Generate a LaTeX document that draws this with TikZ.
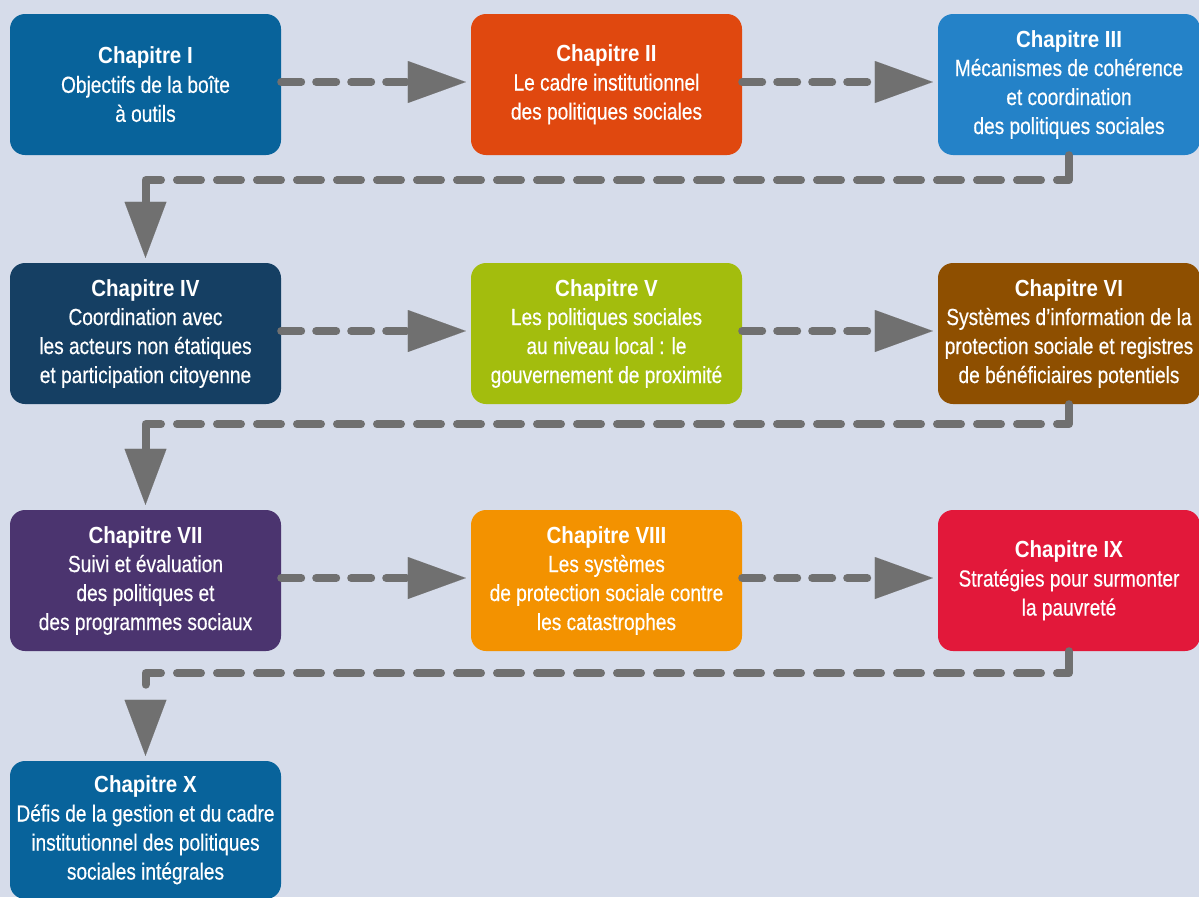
\documentclass[tikz,border=0pt]{standalone}
\usepackage{fontspec}
\setmainfont{Liberation Sans}[FakeStretch=0.82, UprightFeatures={FakeBold=0.4}, BoldFeatures={FakeStretch=0.88}]
\usetikzlibrary{arrows.meta}

\definecolor{bgcol}{HTML}{D6DCEA}
\definecolor{linkgray}{HTML}{707070}
\definecolor{cI}{HTML}{08639B}
\definecolor{cII}{HTML}{E0480F}
\definecolor{cIII}{HTML}{2482C8}
\definecolor{cIV}{HTML}{153F63}
\definecolor{cV}{HTML}{A3BD0D}
\definecolor{cVI}{HTML}{8E4F00}
\definecolor{cVII}{HTML}{4B346F}
\definecolor{cVIII}{HTML}{F39200}
\definecolor{cIX}{HTML}{E2183A}

\tikzset{
  chapbox/.style={rounded corners=15pt, inner sep=0pt, text=white, align=center,
    minimum width=271pt, minimum height=141pt,
    font=\fontsize{23.3}{29}\selectfont},
  widebox/.style={chapbox, minimum width=262pt},
  nextlink/.style={draw=linkgray, line width=8pt, line cap=round,
    dash pattern=on 20pt off 15pt, shorten >=5pt,
    -{Triangle[length=58pt,width=42pt,line width=0.01pt,fill=linkgray]}},
  % #1: first dash (round the upper corner), #2: last dash (round the lower corner)
  backlink/.style 2 args={draw=linkgray, line width=8pt, line cap=round, line join=round,
    dash pattern=on #1 off 16pt
      on 24pt off 16pt on 24pt off 16pt on 24pt off 16pt on 24pt off 16pt
      on 24pt off 16pt on 24pt off 16pt on 24pt off 16pt on 24pt off 16pt
      on 24pt off 16pt on 24pt off 16pt on 24pt off 16pt on 24pt off 16pt
      on 24pt off 16pt on 24pt off 16pt on 24pt off 16pt on 24pt off 16pt
      on 24pt off 16pt on 24pt off 16pt on 24pt off 16pt on 24pt off 16pt
      on 24pt off 16pt on 24pt off 16pt
      on #2 off 200pt,
    shorten >=5pt,
    -{Triangle[length=56pt,width=42pt,line width=0.01pt,fill=linkgray]}}
}
\newcommand{\chap}[1]{\textbf{#1}}

\begin{document}
\begin{tikzpicture}[x=1pt,y=-1pt]
  \useasboundingbox (0,0) rectangle (1199,897);
  \clip (0,0) rectangle (1199,897);
  \fill[bgcol] (0,0) rectangle (1199,897);

  % first row
  \node[chapbox, fill=cI] (b1) at (145.5,84.5)
    {\chap{Chapitre I}\\Objectifs de la boîte\\à outils};
  \node[chapbox, fill=cII] (b2) at (606.5,84.5)
    {\chap{Chapitre II}\\Le cadre institutionnel\\des politiques sociales};
  \node[widebox, fill=cIII] (b3) at (1069,84.5)
    {\chap{Chapitre III}\\Mécanismes de cohérence\\et coordination\\des politiques sociales};

  % second row
  \node[chapbox, fill=cIV] (b4) at (145.5,333.5)
    {\chap{Chapitre IV}\\Coordination avec\\les acteurs non étatiques\\et participation citoyenne};
  \node[chapbox, fill=cV] (b5) at (606.5,333.5)
    {\chap{Chapitre V}\\Les politiques sociales\\au niveau local~: le\\gouvernement de proximité};
  \node[widebox, fill=cVI] (b6) at (1069,333.5)
    {\chap{Chapitre VI}\\Systèmes d’information de la\\protection sociale et registres\\de bénéficiaires potentiels};

  % third row
  \node[chapbox, fill=cVII] (b7) at (145.5,580.5)
    {\chap{Chapitre VII}\\Suivi et évaluation\\des politiques et\\des programmes sociaux};
  \node[chapbox, fill=cVIII] (b8) at (606.5,580.5)
    {\chap{Chapitre VIII}\\Les systèmes\\de protection sociale contre\\les catastrophes};
  \node[widebox, fill=cIX] (b9) at (1069,580.5)
    {\chap{Chapitre IX}\\Stratégies pour surmonter\\la pauvreté};

  % last row
  \node[chapbox, fill=cI, minimum height=138pt] (b10) at (145.5,830)
    {\chap{Chapitre X}\\Défis de la gestion et du cadre\\institutionnel des politiques\\sociales intégrales};

  % links inside each row
  \draw[nextlink] ([yshift=2.5pt]b1.east) -- ([yshift=2.5pt]b2.west);
  \draw[nextlink] ([yshift=2.5pt]b2.east) -- ([yshift=2.5pt]b3.west);
  \draw[nextlink] ([yshift=2.5pt]b4.east) -- ([yshift=2.5pt]b5.west);
  \draw[nextlink] ([yshift=2.5pt]b5.east) -- ([yshift=2.5pt]b6.west);
  \draw[nextlink] ([yshift=2.5pt]b7.east) -- ([yshift=2.5pt]b8.west);
  \draw[nextlink] ([yshift=2.5pt]b8.east) -- ([yshift=2.5pt]b9.west);

  % links from the end of a row to the start of the next one
  \draw[backlink={37pt}{200pt}] (b3.south) -- ++(0,25) -| (b4.north);
  \draw[backlink={32pt}{200pt}] (b6.south) -- ++(0,20) -| (b7.north);
  \draw[backlink={34pt}{27pt}]  (b9.south) -- ++(0,22) -| (b10.north);
\end{tikzpicture}
\end{document}
